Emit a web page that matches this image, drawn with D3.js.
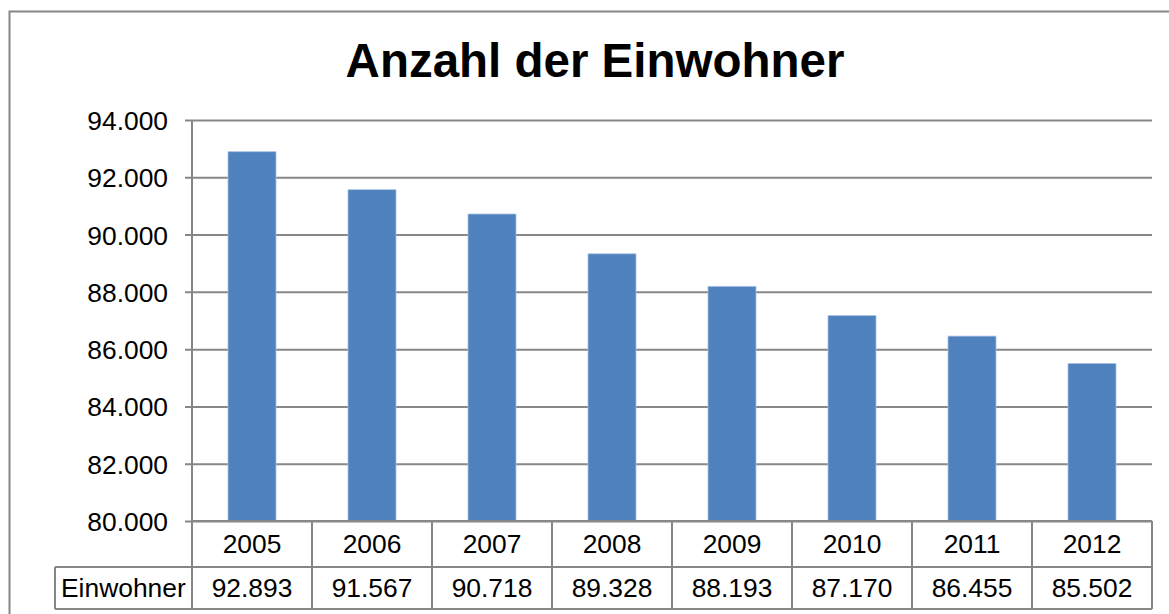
<!DOCTYPE html>
<html>
<head>
<meta charset="utf-8">
<script src="https://cdn.jsdelivr.net/npm/d3@7"></script>
<style>
  body { margin: 0; background: #fff; }
  text { font-family: "Liberation Sans", Arial, sans-serif; fill: #000; }
</style>
</head>
<body>
<svg class="chart"></svg>
<script>
// data
var years = ["2005", "2006", "2007", "2008", "2009", "2010", "2011", "2012"];
var einwohner = [92893, 91567, 90718, 89328, 88193, 87170, 86455, 85502];
var yTicks = [80000, 82000, 84000, 86000, 88000, 90000, 92000, 94000];
var seriesName = "Einwohner";
var title = "Anzahl der Einwohner";

var W = 1169, H = 614;
var plot = { left: 192, right: 1152, top: 120, bottom: 521 };
var rowH = [46, 42];
var gray = "#878787";

var fmt = function (v) { return d3.format(",")(v).replace(/,/g, "."); };

var svg = d3.select(".chart").attr("width", W).attr("height", H);

// outer chart frame (runs off the right and bottom edge)
svg.append("rect")
    .attr("x", 9.5).attr("y", 11.5)
    .attr("width", W + 20).attr("height", H + 20)
    .attr("fill", "none").attr("stroke", gray).attr("stroke-width", 2);

svg.append("text")
    .attr("x", 595).attr("y", 77)
    .attr("text-anchor", "middle")
    .style("font-size", "47.5px").style("font-weight", "bold")
    .text(title);

var x = d3.scaleBand().domain(years)
    .range([plot.left, plot.right])
    .paddingInner(0.6).paddingOuter(0.3);
var y = d3.scaleLinear().domain([80000, 94000]).range([plot.bottom, plot.top]);

// gridlines + y labels
var yAxis = svg.append("g")
    .attr("transform", "translate(" + plot.left + ",0)")
    .call(d3.axisLeft(y).tickValues(yTicks).tickFormat(fmt)
        .tickSize(-(plot.right - plot.left)).tickPadding(24));
yAxis.select(".domain").remove();
yAxis.selectAll(".tick line")
    .attr("stroke", gray).attr("stroke-width", 2)
    .attr("x1", -7);
yAxis.selectAll(".tick text")
    .style("font-size", "26.4px")
    .attr("font-family", null)
    .attr("dy", "0.36em");
yAxis.attr("font-size", null).attr("font-family", null);

// bars
svg.selectAll(".bar")
    .data(einwohner)
    .enter().append("rect")
    .attr("class", "bar")
    .attr("x", function (d, i) { return x(years[i]); })
    .attr("width", x.bandwidth())
    .attr("y", function (d) { return y(d); })
    .attr("height", function (d) { return y(80000) - y(d); })
    .attr("fill", "#4F81BD")
    .attr("stroke", "#a9c3e6").attr("stroke-width", 0.8);

// y axis line
svg.append("line")
    .attr("x1", plot.left).attr("x2", plot.left)
    .attr("y1", plot.top).attr("y2", plot.bottom + rowH[0] + rowH[1])
    .attr("stroke", gray).attr("stroke-width", 2);

// data table
var step = x.step();
var tbl = svg.append("g");
var yRow1 = plot.bottom, yRow2 = plot.bottom + rowH[0], yEnd = yRow2 + rowH[1];
var left = 55;

tbl.append("line").attr("x1", plot.left).attr("x2", plot.right)
    .attr("y1", plot.bottom).attr("y2", plot.bottom);
tbl.append("line").attr("x1", left).attr("x2", plot.right)
    .attr("y1", yRow2).attr("y2", yRow2);
tbl.append("line").attr("x1", left).attr("x2", plot.right)
    .attr("y1", yEnd).attr("y2", yEnd);
tbl.append("line").attr("x1", left).attr("x2", left)
    .attr("y1", yRow2).attr("y2", yEnd);
years.forEach(function (yr, i) {
    var xe = plot.left + step * (i + 1);
    tbl.append("line").attr("x1", xe).attr("x2", xe)
        .attr("y1", yRow1).attr("y2", yEnd);
});
tbl.selectAll("line").attr("stroke", gray).attr("stroke-width", 2);

tbl.selectAll(".yr")
    .data(years)
    .enter().append("text")
    .attr("class", "yr")
    .attr("x", function (d) { return x(d) + x.bandwidth() / 2; })
    .attr("y", yRow1 + 32)
    .attr("text-anchor", "middle")
    .style("font-size", "26.4px")
    .text(function (d) { return d; });

tbl.selectAll(".val")
    .data(einwohner)
    .enter().append("text")
    .attr("class", "val")
    .attr("x", function (d, i) { return x(years[i]) + x.bandwidth() / 2; })
    .attr("y", yRow2 + 30)
    .attr("text-anchor", "middle")
    .style("font-size", "26.4px")
    .text(function (d) { return fmt(d); });

tbl.append("text")
    .attr("x", 61).attr("y", yRow2 + 30)
    .style("font-size", "26.4px")
    .text(seriesName);
</script>
</body>
</html>
